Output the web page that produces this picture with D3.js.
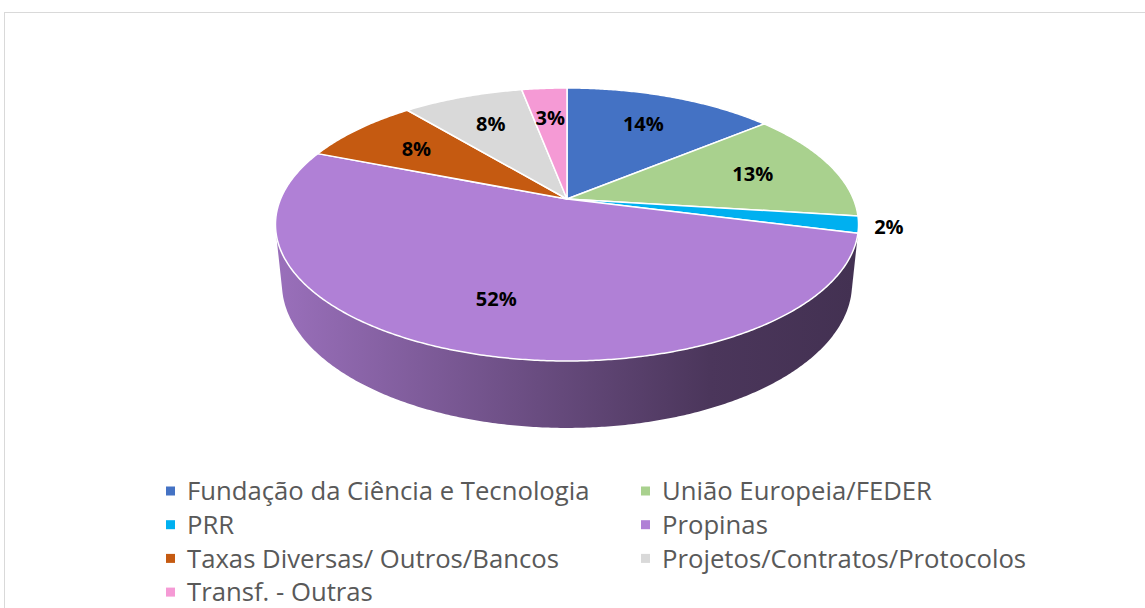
<!DOCTYPE html>
<html>
<head>
<meta charset="utf-8">
<script src="https://cdn.jsdelivr.net/npm/d3@7"></script>
<style>
  html, body { margin: 0; padding: 0; background: #fff; }
  svg { display: block; }
</style>
</head>
<body>
<div id="chart"></div>
<script>
// chart data
const categories = [
  "Fundação da Ciência e Tecnologia",
  "União Europeia/FEDER",
  "PRR",
  "Propinas",
  "Taxas Diversas/ Outros/Bancos",
  "Projetos/Contratos/Protocolos",
  "Transf. - Outras"
];
const values = [14, 13, 2, 52, 8, 8, 3];
const sliceColors = ["#4472C4", "#A9D18E", "#00B0F0", "#B080D6", "#C55A11", "#D9D9D9", "#F59AD5"];

const width = 1145, height = 608;

const svg = d3.select("#chart").append("svg")
    .attr("width", width)
    .attr("height", height);

// chart area border
svg.append("rect")
    .attr("x", 4.5).attr("y", 12.5)
    .attr("width", width + 20).attr("height", height + 20)
    .attr("fill", "#fff")
    .attr("stroke", "#d9d9d9")
    .attr("stroke-width", 1);

// 3d projection of the pie (perspective, camera tilted down)
const tilt = 27 * Math.PI / 180;
const cosT = Math.cos(tilt), sinT = Math.sin(tilt);
const dist = 4.773, fx = 1367, fy = 1385;
const cx = 567, cy = 199;
const thick = 0.23;

function project(theta, r, y) {
  const x = r * Math.sin(theta);
  const z = -r * Math.cos(theta);
  const depth = dist - (z * cosT + y * sinT);
  const v = y * cosT - z * sinT;
  return [cx + fx * x / depth, cy - fy * v / depth];
}

function arcPoints(a0, a1, r, y) {
  const n = Math.max(2, Math.ceil((a1 - a0) / (Math.PI / 360)));
  return d3.range(n + 1).map(i => project(a0 + (a1 - a0) * i / n, r, y));
}

const color = d3.scaleOrdinal().domain(categories).range(sliceColors);
const pie = d3.pie().sort(null).value(d => d.value);
const arcs = pie(categories.map((c, i) => ({ name: c, value: values[i] })));
const line = d3.line();

// side walls are only seen where they face the camera
const visLimit = Math.acos(-1 / (dist * cosT));
const visStart = visLimit, visEnd = 2 * Math.PI - visLimit;

const defs = svg.append("defs");
const xLeft = project(-Math.PI / 2, 1, 0)[0], xRight = project(Math.PI / 2, 1, 0)[0];
arcs.forEach((d, i) => {
  const base = d3.color(color(d.data.name));
  const g = defs.append("linearGradient")
      .attr("id", "side" + i)
      .attr("gradientUnits", "userSpaceOnUse")
      .attr("x1", xLeft).attr("x2", xRight)
      .attr("y1", 0).attr("y2", 0);
  [[0, 0.4], [0.45, 1.45], [0.75, 2.4], [1, 2.7]].forEach(([o, k]) => {
    g.append("stop").attr("offset", o).attr("stop-color", base.darker(k).formatHex());
  });
});

const sides = svg.append("g").attr("class", "sides");
arcs.forEach((d, i) => {
  const a0 = Math.max(d.startAngle, visStart);
  const a1 = Math.min(d.endAngle, visEnd);
  if (a1 <= a0) return;
  const pts = arcPoints(a0, a1, 1, 0).concat(arcPoints(a0, a1, 1, -thick).reverse());
  sides.append("path")
      .attr("d", line(pts) + "Z")
      .attr("fill", `url(#side${i})`);
});

// top faces
svg.append("g").attr("class", "tops")
  .selectAll("path")
  .data(arcs)
  .join("path")
    .attr("d", d => line([project(0, 0, 0)].concat(arcPoints(d.startAngle, d.endAngle, 1, 0))) + "Z")
    .attr("fill", d => color(d.data.name))
    .attr("stroke", "#fff")
    .attr("stroke-width", 1.5)
    .attr("stroke-linejoin", "round");

// data labels
svg.append("g").attr("class", "labels")
  .selectAll("text")
  .data(arcs)
  .join("text")
    .attr("transform", d => {
      const mid = (d.startAngle + d.endAngle) / 2;
      const r = d.data.value < 3 ? 1.1 : 0.7;
      return `translate(${project(mid, r, 0)})`;
    })
    .attr("text-anchor", "middle")
    .attr("dy", "0.35em")
    .attr("font-family", "'Open Sans', sans-serif")
    .attr("font-weight", "bold")
    .attr("font-size", 20)
    .attr("fill", "#000")
    .text(d => d.data.value + "%");

// legend
const legendCols = [166, 641];
const legendRow0 = 491, legendStep = 33.7;
const legend = svg.append("g").attr("class", "legend")
  .selectAll("g")
  .data(categories)
  .join("g")
    .attr("transform", (d, i) => `translate(${legendCols[i % 2]},${legendRow0 + Math.floor(i / 2) * legendStep})`);

legend.append("rect")
    .attr("x", 0).attr("y", -4.5)
    .attr("width", 9).attr("height", 9)
    .attr("fill", d => color(d));

legend.append("text")
    .attr("x", 21)
    .attr("dy", "0.36em")
    .attr("font-family", "'Open Sans', sans-serif")
    .attr("font-size", 25.7)
    .attr("fill", "#595959")
    .text(d => d);
</script>
</body>
</html>
